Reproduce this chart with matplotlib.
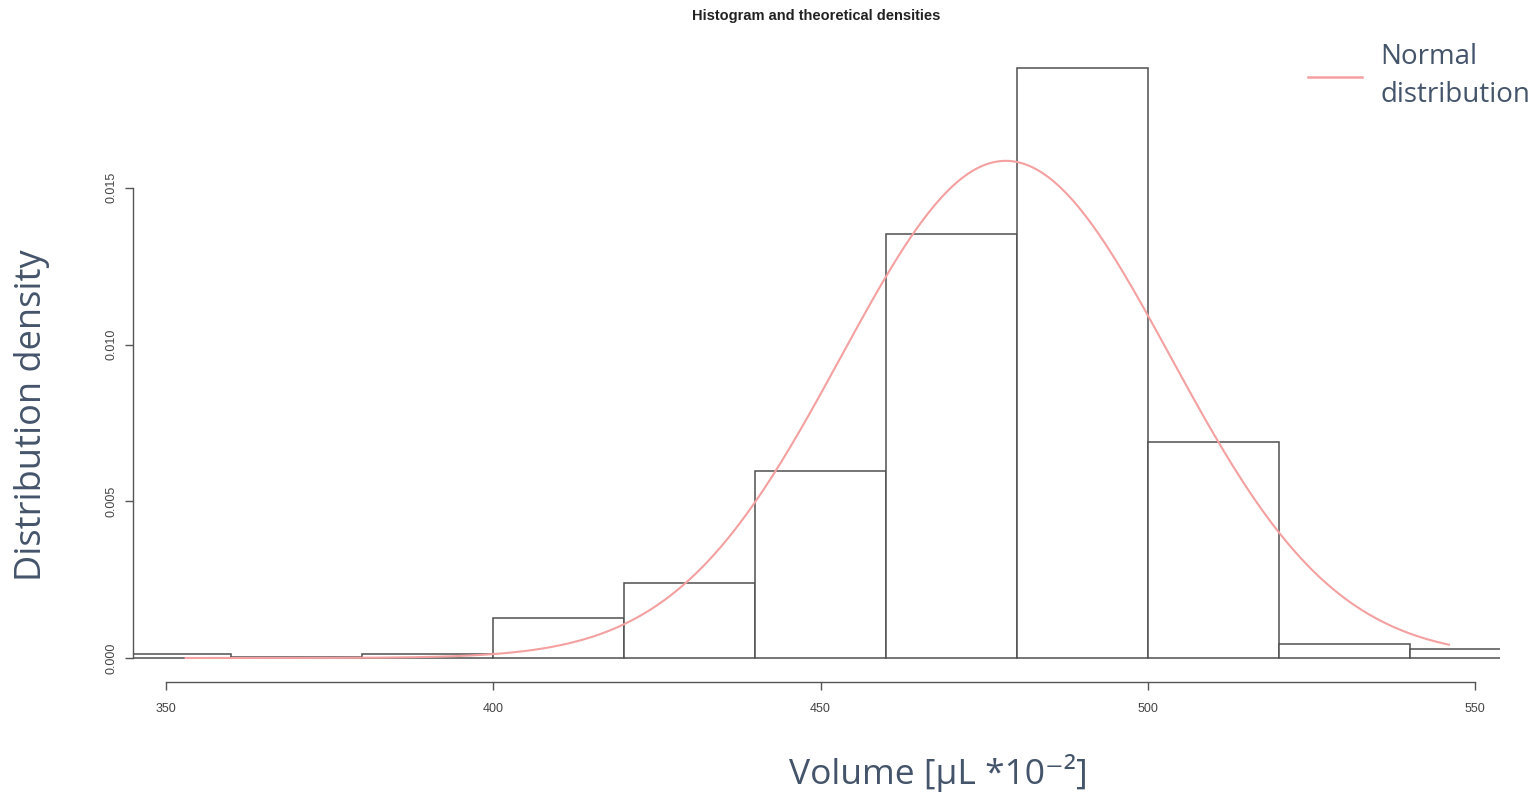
import numpy as np
import matplotlib.pyplot as plt
from matplotlib.lines import Line2D

# 直方图数据（bin 边界 20 一格）
bin_left = [340, 360, 380, 400, 420, 440, 460, 480, 500, 520, 540]
bin_width = 20
density = [0.00013, 0.00003, 0.00013, 0.00128, 0.00239, 0.00597,
           0.01353, 0.01883, 0.00689, 0.00045, 0.00029]

# 理论正态分布参数
norm_mean = 478.3
norm_sd = 25.15
curve_range = (353, 546)

x_ticks = [350, 400, 450, 500, 550]
y_ticks = [0.000, 0.005, 0.010, 0.015]

LABEL_COLOR = "#44546A"
AXIS_COLOR = "#555555"
CURVE_COLOR = "#F4A0A0"

fig = plt.figure(figsize=(15.36, 7.98), dpi=100)
ax = fig.add_axes([133 / 1536, 1 - 682 / 798, 1367 / 1536, 622 / 798])

ax.bar(bin_left, density, width=bin_width, align="edge",
       facecolor="white", edgecolor="#505050", linewidth=1.1, zorder=2)

xs = np.linspace(curve_range[0], curve_range[1], 400)
pdf = np.exp(-0.5 * ((xs - norm_mean) / norm_sd) ** 2) / (norm_sd * np.sqrt(2 * np.pi))
ax.plot(xs, pdf, color=CURVE_COLOR, linewidth=1.5, zorder=3)

ax.set_xlim(344.96, 553.8)
ax.set_ylim(-0.000766, 0.01908)

for side in ("top", "right"):
    ax.spines[side].set_visible(False)
ax.spines["bottom"].set_bounds(350, 550)
ax.spines["left"].set_bounds(0, 0.015)
for side in ("bottom", "left"):
    ax.spines[side].set_color(AXIS_COLOR)
    ax.spines[side].set_linewidth(1.0)

ax.set_xticks(x_ticks)
ax.set_xticklabels([str(t) for t in x_ticks])
ax.set_yticks(y_ticks)
ax.set_yticklabels([f"{t:.3f}" for t in y_ticks], rotation=90, va="center")
ax.tick_params(axis="both", colors=AXIS_COLOR, labelcolor="#444444",
               labelsize=9, length=6, width=1.0)
ax.tick_params(axis="x", pad=9)
ax.tick_params(axis="y", pad=5)
for lbl in ax.get_xticklabels() + ax.get_yticklabels():
    lbl.set_family("Liberation Sans")

fig.text(816 / 1536, 1 - 16 / 798, "Histogram and theoretical densities",
         ha="center", va="center", fontsize=10.5, fontweight="bold",
         family="Liberation Sans", color="#222222")

fig.text(32 / 1536, 1 - 415 / 798, "Distribution density", rotation=90,
         ha="center", va="center", fontsize=26, color=LABEL_COLOR,
         family=["Open Sans", "DejaVu Sans"])
fig.text(938 / 1536, 1 - 773 / 798, "Volume [μL *10⁻²]",
         ha="center", va="center", fontsize=25.5, color=LABEL_COLOR,
         family=["Open Sans", "DejaVu Sans"])

# 图例（手动放置）
fig.add_artist(Line2D([1308 / 1536, 1362 / 1536], [1 - 77 / 798, 1 - 77 / 798],
                      transform=fig.transFigure, color=CURVE_COLOR, linewidth=1.8))
fig.text(1380 / 1536, 1 - 76 / 798, "Normal\ndistribution",
         ha="left", va="center", fontsize=20, linespacing=1.45,
         color=LABEL_COLOR, family=["Open Sans", "DejaVu Sans"])

fig.savefig("out.png", dpi=100)
